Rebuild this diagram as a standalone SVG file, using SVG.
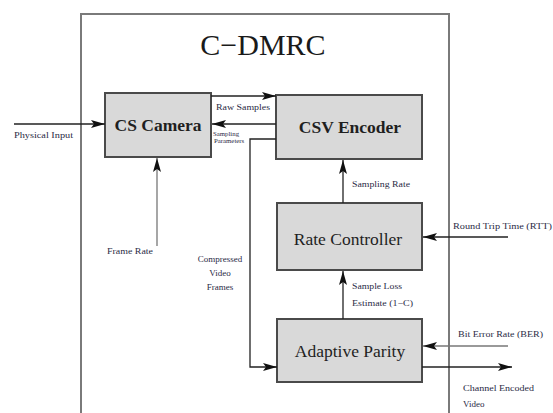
<svg xmlns="http://www.w3.org/2000/svg" width="553" height="413" viewBox="0 0 553 413">
  <defs>
    <marker id="arrow" viewBox="0 0 14 8" refX="14" refY="4" markerWidth="14" markerHeight="8" markerUnits="userSpaceOnUse" orient="auto">
      <path d="M0,0 L14,4 L0,8 L3,4 Z" fill="#111"/>
    </marker>
    <style>
      .frame { fill: none; stroke: #7a7a7a; stroke-width: 2; }
      .block { fill: #d9d9d9; stroke: #4a4a4a; stroke-width: 2; }
      text { font-family: 'Liberation Serif', 'Times New Roman', Times, 'DejaVu Serif', serif; }
      .title { font-size: 30px; fill: #1a1a1a; text-anchor: middle; }
      .blabel { font-size: 17.5px; fill: #1f1f1f; text-anchor: middle; }
      .bold { font-weight: bold; }
      .wire { fill: none; stroke: #222; stroke-width: 1.3; }
      .light { stroke: #777; }
      .small { font-size: 9px; fill: #2a2a45; }
      .tiny { font-size: 6.8px; fill: #2a2a45; }
    </style>
  </defs>
  <rect width="553" height="413" fill="#ffffff"/>

  <!-- system boundary -->
  <g id="cdmrc">
    <path class="frame" d="M81,420 L81,14 L449,14 L449,420"/>
    <text class="title" x="263" y="55">C−DMRC</text>
  </g>

  <g id="cs-camera">
    <rect class="block" x="105" y="93" width="106" height="64"/>
    <text class="blabel bold" x="158" y="131">CS Camera</text>
  </g>

  <g id="csv-encoder">
    <rect class="block" x="276" y="95" width="146" height="64"/>
    <text class="blabel bold" x="350" y="133">CSV Encoder</text>
  </g>

  <g id="rate-controller">
    <rect class="block" x="277" y="203" width="145" height="67" stroke-width="1.6"/>
    <text class="blabel" x="348" y="245">Rate Controller</text>
  </g>

  <g id="adaptive-parity">
    <rect class="block" x="277" y="319" width="145" height="63" stroke-width="1.6"/>
    <text class="blabel" x="350" y="357">Adaptive Parity</text>
  </g>

  <g id="connectors">
    <!-- physical input into camera -->
    <path class="wire" d="M14,124 L105,124" marker-end="url(#arrow)"/>
    <!-- raw samples -->
    <path class="wire" d="M211,96 L276,96" marker-end="url(#arrow)"/>
    <!-- sampling parameters -->
    <path class="wire" d="M276,124 L212,124" marker-end="url(#arrow)"/>
    <!-- compressed video frames -->
    <path class="wire" d="M276,139 L250,139 L250,367 L277,367" marker-end="url(#arrow)"/>
    <!-- frame rate -->
    <path class="wire light" d="M157,246 L157,158" marker-end="url(#arrow)"/>
    <!-- sampling rate -->
    <path class="wire" d="M343,203 L343,160" marker-end="url(#arrow)"/>
    <!-- round trip time -->
    <path class="wire" d="M508,237 L423,237" marker-end="url(#arrow)"/>
    <!-- sample loss estimate -->
    <path class="wire" d="M343,319 L343,271" marker-end="url(#arrow)"/>
    <!-- bit error rate -->
    <path class="wire light" d="M508,346 L423,346" marker-end="url(#arrow)"/>
    <!-- channel encoded video out -->
    <path class="wire" d="M422,367 L512,367" marker-end="url(#arrow)"/>
  </g>

  <g id="labels">
    <text class="small" x="14" y="138" textLength="59" lengthAdjust="spacingAndGlyphs">Physical Input</text>
    <text class="small" x="216" y="110" textLength="54" lengthAdjust="spacingAndGlyphs">Raw Samples</text>
    <text class="tiny" x="213" y="136">Sampling</text>
    <text class="tiny" x="214" y="143">Parameters</text>
    <text class="small" x="107" y="254" textLength="46" lengthAdjust="spacingAndGlyphs">Frame Rate</text>
    <text class="small" x="220" y="262" text-anchor="middle" font-size="9.5">Compressed</text>
    <text class="small" x="220" y="276" text-anchor="middle" font-size="9.5">Video</text>
    <text class="small" x="220" y="290" text-anchor="middle" font-size="9.5">Frames</text>
    <text class="small" x="352" y="187" textLength="58" lengthAdjust="spacingAndGlyphs">Sampling Rate</text>
    <text class="small" x="453" y="229" textLength="99" lengthAdjust="spacingAndGlyphs">Round Trip Time (RTT)</text>
    <text class="small" x="352" y="289" textLength="50" lengthAdjust="spacingAndGlyphs">Sample Loss</text>
    <text class="small" x="352" y="306" textLength="61" lengthAdjust="spacingAndGlyphs">Estimate (1−C)</text>
    <text class="small" x="458" y="337" textLength="85" lengthAdjust="spacingAndGlyphs">Bit Error Rate (BER)</text>
    <text class="small" x="463" y="391" textLength="71" lengthAdjust="spacingAndGlyphs">Channel Encoded</text>
    <text class="small" x="463" y="407">Video</text>
  </g>
</svg>
